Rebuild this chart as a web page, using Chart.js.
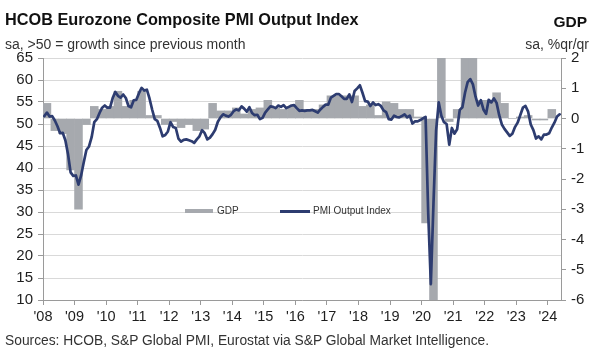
<!DOCTYPE html>
<html>
<head>
<meta charset="utf-8">
<script src="https://cdn.jsdelivr.net/npm/chart.js@4.4.1/dist/chart.umd.min.js"></script>
<style>
  html, body { margin: 0; padding: 0; background: #fff; }
  #wrap { position: relative; width: 600px; height: 357px; font-family: 'Liberation Sans', Arial, sans-serif; color: #222; overflow: hidden; }
  #wrap canvas { position: absolute; left: 0; top: 0; }
  .t { position: absolute; white-space: nowrap; line-height: 1; }
  .sw { position: absolute; }
</style>
</head>
<body>
<div id="wrap">
  <canvas id="c" width="600" height="357"></canvas>
  <div class="t" style="left:5px;top:11px;font-size:16.3px;font-weight:bold;color:#111;">HCOB Eurozone Composite PMI Output Index</div>
  <div class="t" style="left:5px;top:37px;font-size:14px;color:#333;">sa, &gt;50 = growth since previous month</div>
  <div class="t" style="right:13px;top:14px;font-size:15.5px;font-weight:bold;color:#111;">GDP</div>
  <div class="t" style="right:11px;top:37px;font-size:14px;color:#333;">sa, %qr/qr</div>
  <div class="t" style="left:5px;top:334px;font-size:13.8px;color:#333;">Sources: HCOB, S&amp;P Global PMI, Eurostat via S&amp;P Global Market Intelligence.</div>
  <div class="sw" style="left:185px;top:209px;width:28px;height:4px;background:#a6a9ae;"></div>
  <div class="t" style="left:217px;top:206px;font-size:10px;color:#333;">GDP</div>
  <div class="sw" style="left:280px;top:209.5px;width:30px;height:3px;background:#2d3c70;"></div>
  <div class="t" style="left:313px;top:206px;font-size:10px;color:#333;">PMI Output Index</div>
</div>
<script>
// Year tick labels (one per January, starting Jan 2008)
const XLABELS = ["'08","'09","'10","'11","'12","'13","'14","'15","'16","'17","'18","'19","'20","'21","'22","'23","'24"];

// PMI Output Index, monthly, Jan 2008 - May 2024
const PMI_2008 = [51.8, 52.6, 51.7, 51.8, 50.8, 49.5, 47.9, 48.0, 46.3, 43.2, 39.0, 38.2];
const PMI_2009 = [38.3, 36.2, 38.3, 41.3, 44.1, 44.9, 47.0, 50.4, 51.1, 52.5, 53.7, 54.2];
const PMI_2010 = [53.7, 53.7, 55.9, 57.3, 56.4, 56.0, 56.7, 55.9, 54.1, 53.8, 55.4, 55.5];
const PMI_2011 = [57.0, 58.2, 57.6, 57.8, 55.8, 53.3, 51.1, 50.7, 49.1, 47.2, 47.5, 48.3];
const PMI_2012 = [50.4, 49.3, 49.1, 46.7, 46.0, 46.4, 46.5, 46.3, 46.1, 45.7, 46.5, 47.2];
const PMI_2013 = [48.6, 47.9, 46.5, 46.9, 47.7, 48.7, 50.5, 51.5, 52.2, 51.9, 51.7, 52.1];
const PMI_2014 = [52.9, 53.3, 53.1, 54.0, 53.5, 52.8, 53.8, 52.5, 52.0, 52.1, 51.1, 51.4];
const PMI_2015 = [52.6, 53.3, 54.0, 53.9, 53.6, 54.2, 53.9, 54.3, 53.6, 53.9, 54.2, 54.3];
const PMI_2016 = [53.6, 53.0, 53.1, 53.0, 53.1, 53.1, 53.2, 52.9, 52.6, 53.3, 53.9, 54.4];
const PMI_2017 = [54.4, 56.0, 56.4, 56.8, 56.8, 56.3, 55.7, 55.7, 56.7, 55.0, 57.5, 58.1];
const PMI_2018 = [58.8, 57.1, 55.2, 55.1, 54.1, 54.9, 54.3, 54.5, 54.1, 53.1, 52.7, 51.1];
const PMI_2019 = [51.0, 51.9, 51.6, 51.5, 51.8, 52.2, 51.5, 51.9, 50.1, 50.6, 50.6, 50.9];
const PMI_2020 = [51.3, 51.6, 29.7, 13.6, 31.9, 48.5, 54.9, 51.9, 50.4, 50.0, 45.3, 49.1];
const PMI_2021 = [47.8, 48.8, 53.2, 53.8, 57.1, 59.5, 60.2, 59.0, 56.2, 54.2, 55.4, 53.3];
const PMI_2022 = [52.3, 55.5, 54.9, 55.8, 54.8, 52.0, 49.9, 48.9, 48.1, 47.3, 47.8, 49.3];
const PMI_2023 = [50.3, 52.0, 53.7, 54.1, 52.8, 49.9, 48.6, 46.7, 47.2, 46.5, 47.6, 47.6];
const PMI_2024 = [47.9, 49.2, 50.3, 51.7, 52.2];
const PMI = [].concat(PMI_2008, PMI_2009, PMI_2010, PMI_2011, PMI_2012, PMI_2013, PMI_2014, PMI_2015,
  PMI_2016, PMI_2017, PMI_2018, PMI_2019, PMI_2020, PMI_2021, PMI_2022, PMI_2023, PMI_2024);

// GDP, % q/q, quarterly, Q1 2008 - Q1 2024
const GDP_2008 = [0.5, -0.4, -0.5, -1.7];
const GDP_2009 = [-3.0, -0.2, 0.4, 0.3];
const GDP_2010 = [0.4, 0.9, 0.4, 0.6];
const GDP_2011 = [0.9, 0.1, 0.1, -0.2];
const GDP_2012 = [-0.1, -0.3, -0.2, -0.4];
const GDP_2013 = [-0.35, 0.5, 0.25, 0.25];
const GDP_2014 = [0.35, 0.15, 0.3, 0.35];
const GDP_2015 = [0.6, 0.35, 0.3, 0.4];
const GDP_2016 = [0.6, 0.3, 0.3, 0.45];
const GDP_2017 = [0.75, 0.75, 0.75, 0.75];
const GDP_2018 = [0.4, 0.45, 0.1, 0.55];
const GDP_2019 = [0.5, 0.3, 0.3, 0.05];
const GDP_2020 = [-3.45, -11.6, 12.5, -0.1];
const GDP_2021 = [0.3, 2.1, 2.3, 0.6];
const GDP_2022 = [0.6, 0.85, 0.5, 0.0];
const GDP_2023 = [0.05, 0.1, -0.05, -0.05];
const GDP_2024 = [0.3];
const GDP = [].concat(GDP_2008, GDP_2009, GDP_2010, GDP_2011, GDP_2012, GDP_2013, GDP_2014, GDP_2015,
  GDP_2016, GDP_2017, GDP_2018, GDP_2019, GDP_2020, GDP_2021, GDP_2022, GDP_2023, GDP_2024);

const PMI_MIN = 10, PMI_MAX = 65, PMI_STEP = 5;
const GDP_MIN = -6, GDP_MAX = 2, GDP_STEP = 1;

// x is measured in months since Jan 2008; monthly points sit mid-month, quarterly bars span their quarter
const pmiPoints = PMI.map((v, i) => ({ x: i + 0.5, y: v }));
const gdpPoints = GDP.map((v, i) => ({ x: i * 3 + 1.5, y: v }));

Chart.defaults.font.family = "'Liberation Sans', Arial, sans-serif";
Chart.defaults.font.size = 14;
Chart.defaults.color = '#1e1e1e';

new Chart(document.getElementById('c'), {
  type: 'line',
  data: {
    datasets: [
      {
        type: 'line', label: 'PMI Output Index', data: pmiPoints, yAxisID: 'y',
        borderColor: '#2d3c70', borderWidth: 2.7, pointRadius: 0, tension: 0, order: 0,
        borderJoinStyle: 'round', borderCapStyle: 'round'
      },
      {
        type: 'bar', label: 'GDP', data: gdpPoints, yAxisID: 'y1',
        backgroundColor: '#a6a9ae', borderWidth: 0, barPercentage: 1, categoryPercentage: 1, order: 1
      }
    ]
  },
  options: {
    responsive: false,
    animation: false,
    layout: { padding: { top: 58, bottom: 33, left: 0, right: 0 } },
    plugins: { legend: { display: false }, tooltip: { enabled: false }, title: { display: false } },
    scales: {
      x: {
        type: 'linear', min: 0, max: 197, offset: false,
        grid: { display: true, drawOnChartArea: false, drawTicks: true, tickLength: 5, tickColor: '#9a9a9a', offset: false },
        border: { display: true, color: '#9a9a9a', width: 1 },
        afterBuildTicks: (s) => { s.ticks = XLABELS.map((_, i) => ({ value: i * 12 })); },
        ticks: { autoSkip: false, maxRotation: 0, padding: 3, font: { size: 14.5 }, callback: (v) => XLABELS[Math.round(v / 12)] },
        afterFit: (s) => { s.height = 24; }
      },
      y: {
        type: 'linear', position: 'left', min: PMI_MIN, max: PMI_MAX,
        ticks: { stepSize: PMI_STEP, padding: 5, font: { size: 15 } },
        grid: { color: '#d9d9d9', drawTicks: true, tickLength: 5, tickColor: '#9a9a9a' },
        border: { display: true, color: '#9a9a9a' },
        afterFit: (s) => { s.width = 43; }
      },
      y1: {
        type: 'linear', position: 'right', min: GDP_MIN, max: GDP_MAX,
        ticks: { stepSize: GDP_STEP, padding: 5, font: { size: 15 } },
        grid: { drawOnChartArea: false, drawTicks: true, tickLength: 5, tickColor: '#9a9a9a' },
        border: { display: true, color: '#9a9a9a' },
        afterFit: (s) => { s.width = 39; }
      }
    }
  }
});
</script>
</body>
</html>
